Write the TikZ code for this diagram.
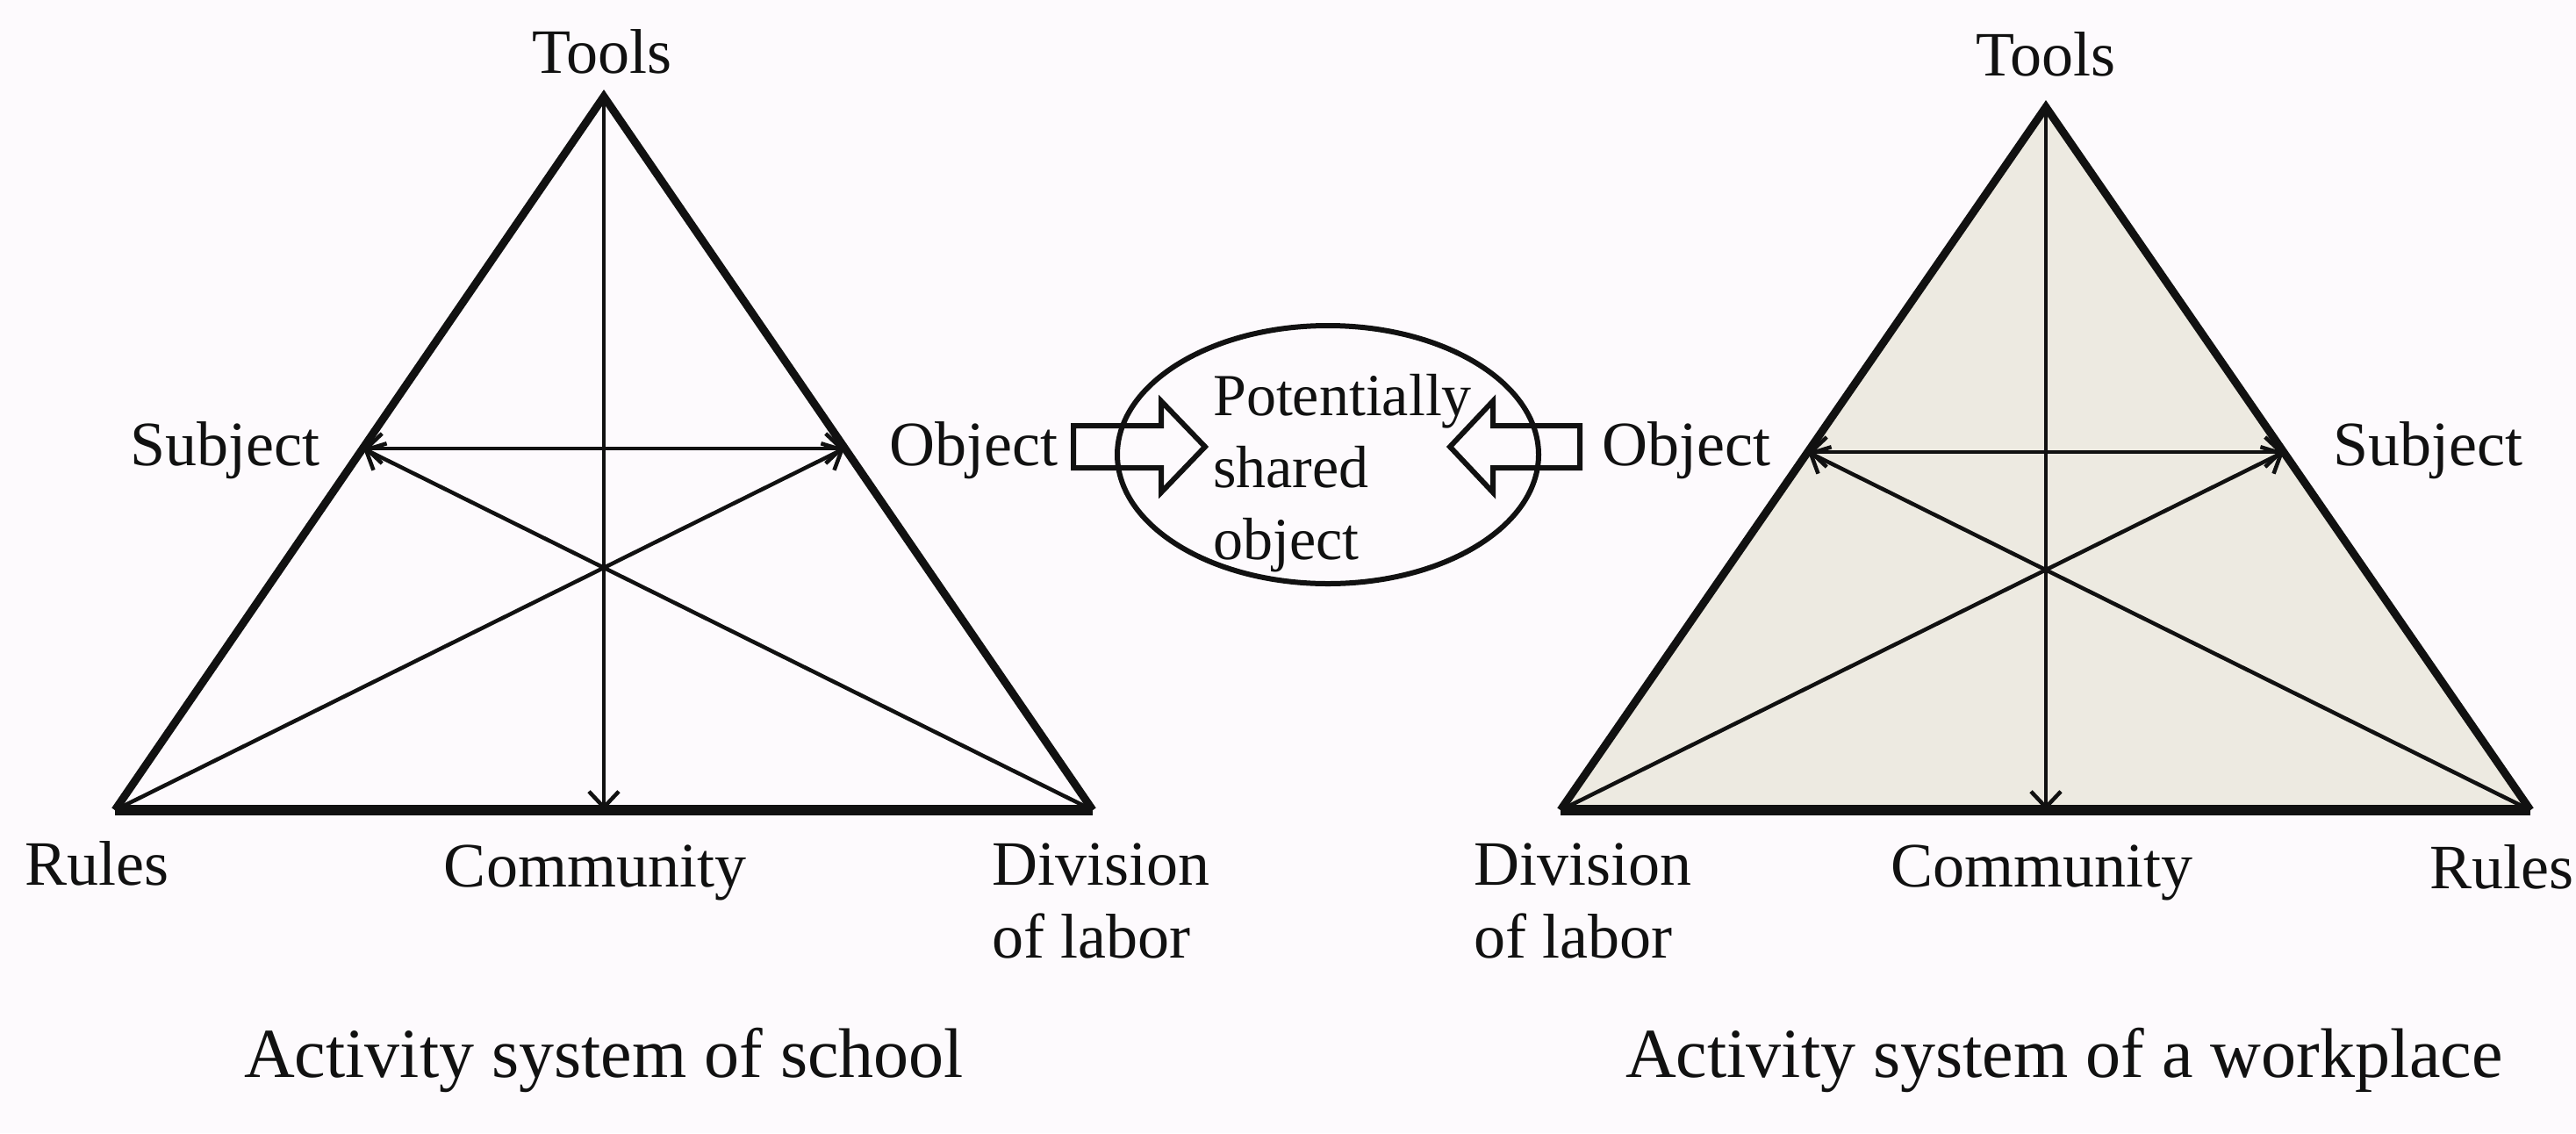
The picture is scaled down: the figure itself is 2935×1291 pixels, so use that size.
\documentclass[tikz,border=0pt]{standalone}
\usepackage{fontspec}
\setmainfont{Liberation Serif}
\usetikzlibrary{arrows.meta,shapes.geometric}
\definecolor{bgc}{HTML}{FDFAFD}
\definecolor{fillc}{HTML}{EDEAE1}
\definecolor{ink}{HTML}{111111}
\begin{document}
\begin{tikzpicture}[x=1pt,y=-1pt,
  lbl/.style={font=\fontsize{72}{83}\selectfont, text=ink, inner sep=0pt},
  captxt/.style={font=\fontsize{80}{90}\selectfont, text=ink, inner sep=0pt, anchor=base},
  sidex/.style={draw=ink, line width=9pt, line join=miter},
  basex/.style={draw=ink, line width=12pt},
  innerx/.style={draw=ink, line width=4.5pt},
  arrowone/.style={innerx, -{Straight Barb[length=18pt,width=34pt,line width=4.5pt]}},
  arrowtwo/.style={innerx, {Straight Barb[length=18pt,width=34pt,line width=4.5pt]}-{Straight Barb[length=18pt,width=34pt,line width=4.5pt]}},
  blockarrow/.style={draw=ink, line width=6pt, line join=miter}
]
\useasboundingbox (0,0) rectangle (2935,1291);
\fill[bgc] (0,0) rectangle (2935,1291);

% ---------- left triangle ----------
\coordinate (LT) at (688,110);
\coordinate (LBL) at (131,923);
\coordinate (LBR) at (1245,923);
\coordinate (LC) at (688,923);
\coordinate (LS) at (414,511);
\coordinate (LO) at (962,511);
\draw[sidex] (LBL) -- (LT) -- (LBR);
\draw[basex] (LBL) -- (LBR);
\draw[arrowone] (LT) -- (LC);
\draw[arrowtwo] (LS) -- (LO);
\draw[arrowone] (LBL) -- (LO);
\draw[arrowone] (LBR) -- (LS);

% ---------- right triangle ----------
\coordinate (RT) at (2331,122);
\coordinate (RBL) at (1778,923);
\coordinate (RBR) at (2883,923);
\coordinate (RC) at (2331,923);
\coordinate (RO) at (2060,515);
\coordinate (RS) at (2602,515);
\fill[fillc] (RBL) -- (RT) -- (RBR) -- cycle;
\draw[sidex] (RBL) -- (RT) -- (RBR);
\draw[basex] (RBL) -- (RBR);
\draw[arrowone] (RT) -- (RC);
\draw[arrowtwo] (RO) -- (RS);
\draw[arrowone] (RBL) -- (RS);
\draw[arrowone] (RBR) -- (RO);

% ---------- centre ----------
\node[draw=ink, line width=6pt, ellipse, minimum width=480pt, minimum height=294pt, inner sep=0pt] (shared) at (1513,518) {};
\node[lbl, font=\fontsize{68}{82}\selectfont, align=left, anchor=north west] (sharedtxt) at (1382,426) {Potentially\\shared\\object};
\draw[blockarrow] (1223,485) -- (1323,485) -- (1323,457) -- (1373,509) -- (1323,561) -- (1323,533) -- (1223,533) -- cycle;
\draw[blockarrow] (1800,485) -- (1701,485) -- (1701,457) -- (1652,509) -- (1701,561) -- (1701,533) -- (1800,533) -- cycle;

% ---------- labels left ----------
\node[lbl, anchor=base] (ltools) at (686,83) {Tools};
\node[lbl, anchor=base east] (lsubj) at (365,530) {Subject};
\node[lbl, anchor=base west] (lobj) at (1013,530) {Object};
\node[lbl, anchor=base west] (lrules) at (28,1008) {Rules};
\node[lbl, anchor=base] (lcomm) at (678,1010) {Community};
\node[lbl, align=left, anchor=north west] (ldiv) at (1130,961) {Division\\of labor};
\node[captxt] (lcap) at (688,1227) {Activity system of school};

% ---------- labels right ----------
\node[lbl, anchor=base] (rtools) at (2331,86) {Tools};
\node[lbl, anchor=base west] (robj) at (1825,530) {Object};
\node[lbl, anchor=base west] (rsubj) at (2658,530) {Subject};
\node[lbl, align=left, anchor=north west] (rdiv) at (1679,961) {Division\\of labor};
\node[lbl, anchor=base] (rcomm) at (2326,1010) {Community};
\node[lbl, anchor=base east] (rrules) at (2933,1012) {Rules};
\node[captxt] (rcap) at (2352,1227) {Activity system of a workplace};
\end{tikzpicture}
\end{document}
